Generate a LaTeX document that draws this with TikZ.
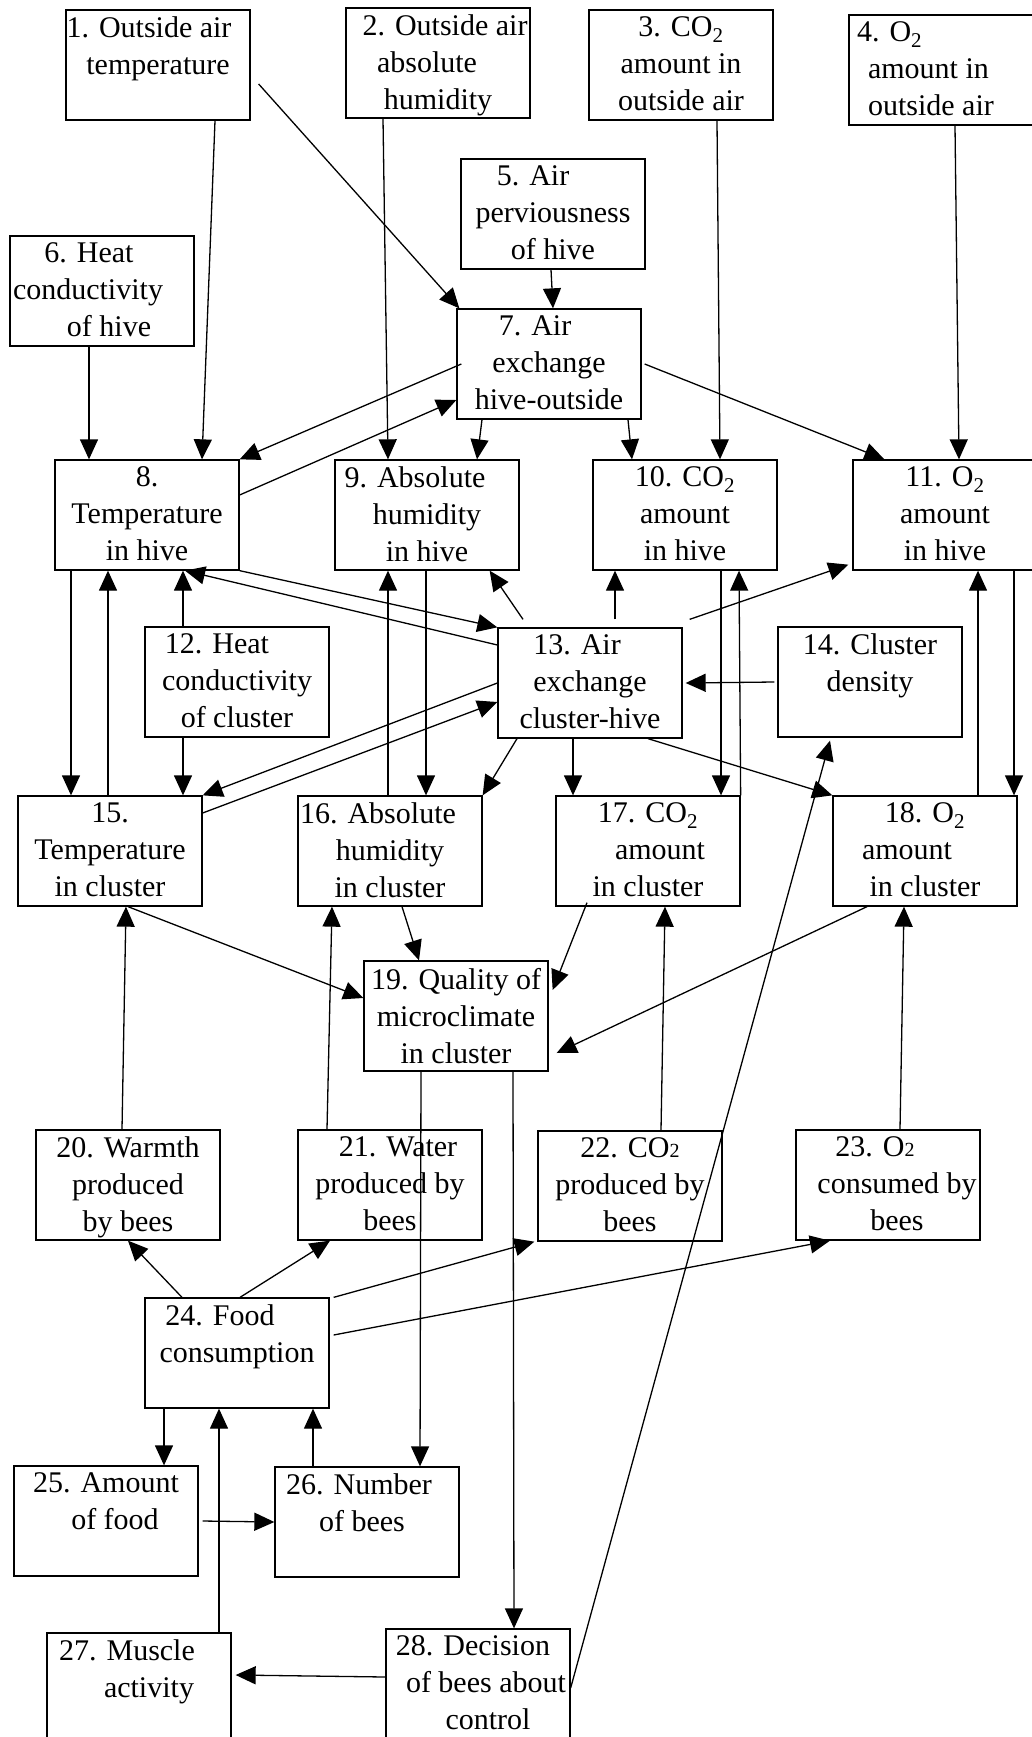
\documentclass[tikz,border=0pt]{standalone}
\usepackage{fontspec}
\setmainfont{Liberation Serif}
\usepackage{tikz}
\usetikzlibrary{arrows.meta,positioning}
\newcommand{\boxtext}[2][\centering]{\parbox[c][96pt][t]{180pt}{#1#2}}
\newcommand{\lowtwo}{{\fontsize{20pt}{20pt}\selectfont 2}}
\newcommand{\nudge}[1]{\hspace*{#1}}
\tikzset{%
	block/.style = {draw, rectangle, line width=1.3pt, minimum width=184pt, minimum height=110pt, inner sep=0pt, font=\fontsize{30pt}{37pt}\selectfont}, % factor
	link/.style  = {line width=1.3pt, ->},
}

\begin{document}
\begin{tikzpicture}[x=1pt,y=-1pt,>={Triangle[length=20pt,width=18pt]}]
	\useasboundingbox (0,0) rectangle (1031,1737);
	\node [block] (b1) at (158,65) {\boxtext{\nudge{-18pt}1. Outside air\\temperature}};
	\node [block] (b2) at (438,63) {\boxtext{\nudge{14pt}2. Outside air\\\nudge{-22pt}absolute\\humidity}};
	\node [block] (b3) at (681,65) {\boxtext{3. CO\textsubscript{2}\\amount in\\outside air}};
	\node [block] (b4) at (941,70) {\boxtext[\raggedright]{\nudge{6pt}4. O\textsubscript{2}\\\nudge{17pt}amount in\\\nudge{17pt}outside air}};
	\node [block] (b5) at (553,214) {\boxtext{\nudge{-40pt}5. Air\\perviousness\\of hive}};
	\node [block] (b6) at (102,291) {\boxtext{\nudge{-26pt}6. Heat\\\nudge{-28pt}conductivity\\\nudge{14pt}of hive}};
	\node [block] (b7) at (549,364) {\boxtext{\nudge{-28pt}7. Air\\exchange\\hive-outside}};
	\node [block] (b8) at (147,515) {\boxtext{8.\\Temperature\\in hive}};
	\node [block] (b9) at (427,515) {\boxtext{\nudge{-24pt}9. Absolute\\humidity\\in hive}};
	\node [block] (b10) at (685,515) {\boxtext{10. CO\textsubscript{2}\\amount\\in hive}};
	\node [block] (b11) at (945,515) {\boxtext{11. O\textsubscript{2}\\amount\\in hive}};
	\node [block] (b12) at (237,682) {\boxtext{\nudge{-40pt}12. Heat\\conductivity\\of cluster}};
	\node [block] (b13) at (590,683) {\boxtext{\nudge{-26pt}13. Air\\exchange\\cluster-hive}};
	\node [block] (b14) at (870,682) {\boxtext{14. Cluster\\density}};
	\node [block] (b15) at (110,851) {\boxtext{15.\\Temperature\\in cluster}};
	\node [block] (b16) at (390,851) {\boxtext{\nudge{-24pt}16. Absolute\\humidity\\in cluster}};
	\node [block] (b17) at (648,851) {\boxtext{17. CO\textsubscript{2}\\\nudge{24pt}amount\\in cluster}};
	\node [block] (b18) at (925,851) {\boxtext{18. O\textsubscript{2}\\\nudge{-36pt}amount\\in cluster}};
	\node [block] (b19) at (456,1016) {\boxtext{19. Quality of\\microclimate\\in cluster}};
	\node [block] (b20) at (128,1185) {\boxtext{20. Warmth\\produced\\by bees}};
	\node [block] (b21) at (390,1185) {\boxtext{\nudge{16pt}21. Water\\produced by\\bees}};
	\node [block] (b22) at (630,1186) {\boxtext{22. CO\lowtwo\\produced by\\bees}};
	\node [block] (b23) at (888,1185) {\boxtext{\nudge{-26pt}23. O\lowtwo\\\nudge{18pt}consumed by\\\nudge{18pt}bees}};
	\node [block] (b24) at (237,1353) {\boxtext{\nudge{-34pt}24. Food\\consumption}};
	\node [block] (b25) at (106,1521) {\boxtext{25. Amount\\\nudge{18pt}of food}};
	\node [block] (b26) at (367,1522) {\boxtext{\nudge{-16pt}26. Number\\\nudge{-10pt}of bees}};
	\node [block] (b27) at (139,1688) {\boxtext{\nudge{-24pt}27. Muscle\\\nudge{20pt}activity}};
	\node [block] (b28) at (478,1684) {\boxtext{\nudge{-10pt}28. Decision\\\nudge{16pt}of bees about\\\nudge{20pt}control}};

	% outside air and hive
	\draw[link] ([xshift=8pt,yshift=-19pt]b1.east) -- ([xshift=3pt]b7.north west);
	\draw[link] ([xshift=57pt]b1.south) -- ([xshift=55pt]b8.north);
	\draw[link] ([xshift=-55pt]b2.south) -- ([xshift=-39pt]b9.north);
	\draw[link] ([xshift=36pt]b3.south) -- ([xshift=35pt]b10.north);
	\draw[link] ([xshift=14pt]b4.south) -- ([xshift=14pt]b11.north);
	\draw[link] ([xshift=-2pt]b5.south) -- ([xshift=4pt]b7.north);
	\draw[link] ([xshift=-13pt]b6.south) -- ([xshift=-58pt]b8.north);
	\draw[link] ([xshift=3pt]b7.east) -- ([xshift=32pt]b11.north west);
	\draw[link] ([xshift=5pt]b7.west) -- (b8.north east);
	\draw[link] ([yshift=20pt]b8.east) -- ([yshift=-36pt]b7.west);
	\draw[link] ([xshift=-67pt]b7.south) -- ([xshift=50pt]b9.north);
	\draw[link] ([xshift=79pt]b7.south) -- ([xshift=-53pt]b10.north);

	% hive and cluster
	\draw[link] ([xshift=-76pt]b8.south) -- ([xshift=-39pt]b15.north);
	\draw[link] ([xshift=-2pt]b15.north) -- ([xshift=-39pt]b8.south);
	\draw[link] ([xshift=-54pt]b12.north) -- ([xshift=36pt]b8.south);
	\draw[link] ([xshift=-54pt]b12.south) -- ([xshift=73pt]b15.north);
	\draw[link] (b8.south east) -- (b13.north west);
	\draw[link] ([yshift=38pt]b13.west) -- ([xshift=38pt]b8.south);
	\draw[link] (b13.west) -- (b15.north east);
	\draw[link] ([yshift=38pt]b15.east) -- ([yshift=-19pt]b13.west);
	\draw[link] ([xshift=-2pt]b16.north) -- ([xshift=-39pt]b9.south);
	\draw[link] ([xshift=-1pt]b9.south) -- ([xshift=36pt]b16.north);
	\draw[link] ([xshift=-67pt,yshift=8pt]b13.north) -- ([xshift=-30pt]b9.south east);
	\draw[link] ([xshift=-73pt]b13.south) -- (b16.north east);
	\draw[link] ([xshift=25pt,yshift=8pt]b13.north) -- ([xshift=-70pt]b10.south);
	\draw[link] ([xshift=7pt,yshift=8pt]b13.north east) -- ([xshift=-4pt,yshift=6pt]b11.south west);
	\draw[link] ([xshift=-3pt]b14.west) -- ([xshift=3pt]b13.east);
	\draw[link] ([xshift=-17pt]b13.south) -- ([xshift=-75pt]b17.north);
	\draw[link] ([xshift=58pt]b13.south) -- (b18.north west);
	\draw[link] ([xshift=36pt]b10.south) -- ([xshift=73pt]b17.north);
	\draw[link] (b17.north east) -- ([xshift=54pt]b10.south);
	\draw[link] ([xshift=53pt]b18.north) -- ([xshift=33pt]b11.south);
	\draw[link] ([xshift=69pt]b11.south) -- ([xshift=89pt]b18.north);

	% microclimate and bees
	\draw[link] ([xshift=18pt]b15.south) -- ([yshift=18pt]b19.west);
	\draw[link] ([xshift=-6pt]b20.north) -- ([xshift=16pt]b15.south);
	\draw[link] ([xshift=-63pt]b21.north) -- ([xshift=-58pt]b16.south);
	\draw[link] ([xshift=12pt]b16.south) -- ([xshift=-37pt]b19.north);
	\draw[link] ([xshift=-61pt,yshift=4pt]b17.south) -- ([xshift=4pt,yshift=26pt]b19.east);
	\draw[link] ([xshift=-58pt]b18.south) -- ([xshift=8pt,yshift=-37pt]b19.east);
	\draw[link] ([xshift=31pt]b22.north) -- ([xshift=17pt]b17.south);
	\draw[link] ([xshift=12pt]b23.north) -- ([xshift=-21pt]b18.south);
	\draw[link] ([xshift=-35pt]b19.south) -- ([xshift=53pt]b26.north);
	\draw[link] ([xshift=57pt]b19.south) -- ([xshift=36pt]b28.north);
	\draw[link] ([xshift=-55pt]b24.north) -- (b20.south);
	\draw[link] ([xshift=3pt]b24.north) -- ([xshift=-60pt]b21.south);
	\draw[link] ([xshift=4pt]b24.north east) -- ([xshift=-3pt]b22.south west);
	\draw[link] ([xshift=4pt,yshift=18pt]b24.east) -- ([xshift=-58pt]b23.south);
	\draw[link] ([xshift=-73pt]b24.south) -- ([xshift=58pt]b25.north);
	\draw[link] ([xshift=-54pt]b26.north) -- ([xshift=76pt]b24.south);
	\draw[link] ([xshift=80pt]b27.north) -- ([xshift=-18pt]b24.south);
	\draw[link] ([xshift=4pt]b25.east) -- (b26.west);
	\draw[link] ([yshift=7pt]b28.west) -- ([xshift=4pt,yshift=13pt]b27.east);
	\draw[link] ([yshift=-4pt]b28.east) -- ([xshift=-40pt,yshift=-3pt]b14.south);
\end{tikzpicture}
\end{document}
